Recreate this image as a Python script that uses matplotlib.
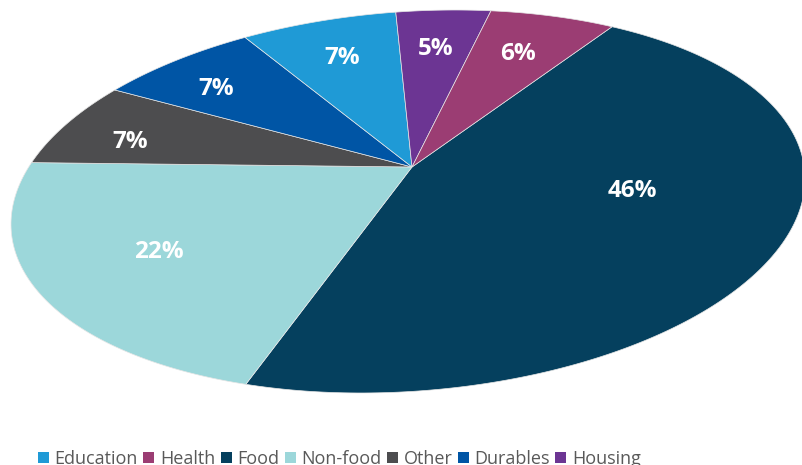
import numpy as np
import matplotlib.pyplot as plt
from matplotlib.patches import Patch

plt.rcParams['font.family'] = ['Open Sans', 'DejaVu Sans']

# 데이터 (legend order)
categories = ['Education', 'Health', 'Food', 'Non-food', 'Other', 'Durables', 'Housing']
values = [7.4, 6.2, 45.6, 21.5, 7.1, 7.4, 4.6]
colors = ['#1F9AD6', '#9B3D73', '#05405E', '#9CD7DA', '#4D4D4F', '#0055A5', '#6C3593']

# order around the pie
pie_order = ['Food', 'Non-food', 'Other', 'Durables', 'Education', 'Housing', 'Health']

# 3D-looking tilted pie: projected ellipse + projected centre (pixels)
CX, CY = 408.0, 201.5
SXX, SYY, SXY = 397.0 ** 2, 191.5 ** 2, -9000.0
APEX = np.array([412.0, 167.0])
START = 33.0
LABEL_R, LABEL_SHIFT = 0.72, 0.0
label_pos = {'Food': (0.58, -9.0), 'Other': (0.78, -4.0),
             'Durables': (0.76, -3.0), 'Non-food': (0.70, 0.0)}

L = np.linalg.cholesky(np.array([[SXX, SXY], [SXY, SYY]]))
zp = np.linalg.solve(L, APEX - [CX, CY])
r = np.hypot(zp[0], zp[1])
beta = np.arctan2(zp[1], zp[0])
k = np.sqrt(1 - r * r)


def to_screen(xd, yd):
    xd = np.atleast_1d(xd)
    yd = np.atleast_1d(yd)
    den = 1 + r * xd
    xr = (xd + r) / den
    yr = yd * k / den
    z0 = xr * np.cos(beta) - yr * np.sin(beta)
    z1 = xr * np.sin(beta) + yr * np.cos(beta)
    p = L @ np.vstack([z0, z1])
    return CX + p[0], CY + p[1]


fig = plt.figure(figsize=(8.03, 4.65), dpi=100)
ax = fig.add_axes([0, 0, 1, 1])
ax.set_xlim(0, 803)
ax.set_ylim(465, 0)
ax.axis('off')

total = sum(values)
a = START
for name in pie_order:
    i = categories.index(name)
    span = 360.0 * values[i] / total
    t = np.radians(np.linspace(a, a + span, 200))
    xs = np.concatenate([[0], np.cos(t)])
    ys = np.concatenate([[0], np.sin(t)])
    sx, sy = to_screen(xs, ys)
    ax.fill(sx, sy, color=colors[i], edgecolor='#e6e6e6', linewidth=0.5)

    rho, shift = label_pos.get(name, (LABEL_R, LABEL_SHIFT))
    mid = np.radians(a + span / 2 + shift)
    lx, ly = to_screen(rho * np.cos(mid), rho * np.sin(mid))
    pct = round(100 * values[i] / total)
    ax.text(lx[0], ly[0], f'{pct}%', color='white', fontsize=17.5,
            fontweight='bold', ha='center', va='center')
    a += span

handles = [Patch(facecolor=c, edgecolor='none') for c in colors]
fig.legend(handles, categories, ncol=7, loc='center left',
           bbox_to_anchor=(38 / 803, 1 - 459 / 465), frameon=False,
           fontsize=13, handlelength=0.6, handleheight=0.6,
           handletextpad=0.32, columnspacing=0.3, borderpad=0,
           borderaxespad=0, labelcolor='#595959')

fig.savefig('out.png', dpi=100)
